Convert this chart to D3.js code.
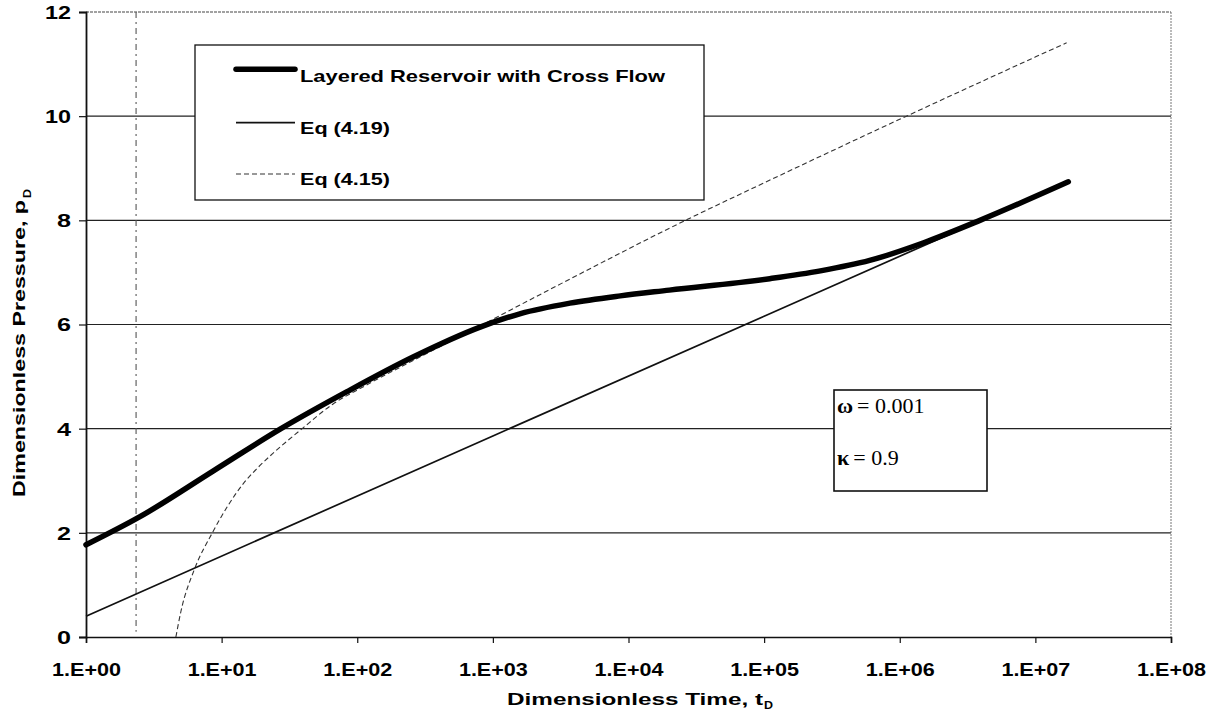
<!DOCTYPE html>
<html>
<head>
<meta charset="utf-8">
<script src="https://cdn.jsdelivr.net/npm/d3@7"></script>
<style>
  html, body { margin: 0; padding: 0; background: #fff; }
  svg { display: block; }
  .sans { font-family: "Liberation Sans", Arial, sans-serif; font-weight: bold; fill: #000; }
  .serif { font-family: "Liberation Serif", "Times New Roman", serif; fill: #000; }
</style>
</head>
<body>
<svg id="chart" width="1214" height="724"></svg>
<script>
// Layered reservoir with cross flow: dimensionless pressure vs dimensionless time
const crossFlowT  = [1, 2.5, 8.7, 27, 84, 260, 805, 1600, 3700, 8700, 2.0e4, 1.1e5, 2.6e5, 6.0e5, 1.5e6, 3.9e6, 1.75e7];
const crossFlowPD = [1.77, 2.31, 3.19, 3.99, 4.71, 5.38, 5.95, 6.21, 6.41, 6.55, 6.66, 6.88, 7.03, 7.23, 7.57, 8.00, 8.74];

// Eq (4.19): semilog straight line
const eq419T  = [1, 1e3, 1e5, 1.75e7];
const eq419PD = [0.40, 3.86, 6.16, 8.74];

// Eq (4.15)
const eq415T  = [4.6, 5.0, 6.3, 8.5, 11, 14.5, 18, 24, 38, 66, 110, 250, 600, 3160, 2.63e4, 1e5, 1.12e6, 1.7e7];
const eq415PD = [0.0, 0.48, 1.3, 1.99, 2.5, 2.95, 3.22, 3.53, 3.97, 4.47, 4.80, 5.29, 5.80, 6.78, 8.0, 8.72, 10.0, 11.41];

// vertical reference line
const markerT = 2.34;

const xTickValues = [1, 1e1, 1e2, 1e3, 1e4, 1e5, 1e6, 1e7, 1e8];
const xTickLabels = ["1.E+00", "1.E+01", "1.E+02", "1.E+03", "1.E+04", "1.E+05", "1.E+06", "1.E+07", "1.E+08"];
const yTickValues = [0, 2, 4, 6, 8, 10, 12];
const yTickLabels = ["0", "2", "4", "6", "8", "10", "12"];

const legendLabels = ["Layered Reservoir with Cross Flow", "Eq (4.19)", "Eq (4.15)"];
const paramSymbols = ["\u03C9", "\u03BA"];
const paramValues  = ["= 0.001", "= 0.9"];

const svg = d3.select("#chart");
const plotLeft = 86, plotRight = 1171, plotTop = 12, plotBottom = 637;

const x = d3.scaleLog().domain([1, 1e8]).range([plotLeft, plotRight]);
const y = d3.scaleLinear().domain([0, 12]).range([plotBottom, plotTop]);

// horizontal gridlines
svg.append("g").selectAll("line")
  .data(yTickValues.filter(v => v > 0 && v < 12))
  .join("line")
  .attr("x1", plotLeft).attr("x2", plotRight)
  .attr("y1", d => y(d)).attr("y2", d => y(d))
  .attr("stroke", "#222").attr("stroke-width", 1.1);

// plot frame: top and right edges
svg.append("line").attr("x1", plotLeft).attr("x2", plotRight).attr("y1", y(12)).attr("y2", y(12))
  .attr("stroke", "#444").attr("stroke-width", 1.2).attr("stroke-dasharray", "3,1");
svg.append("line").attr("x1", plotRight).attr("x2", plotRight).attr("y1", y(12)).attr("y2", y(0))
  .attr("stroke", "#777").attr("stroke-width", 1).attr("stroke-dasharray", "2,1");

// x axis
const xAxis = d3.axisBottom(x).tickValues(xTickValues).tickSize(6).tickFormat((d, i) => xTickLabels[i]);
const gx = svg.append("g").attr("transform", `translate(0,${plotBottom})`).call(xAxis);
gx.select(".domain").attr("stroke", "#111").attr("stroke-width", 1.6);
gx.selectAll(".tick line").attr("stroke", "#111").attr("stroke-width", 1.2);
gx.selectAll(".tick text")
  .attr("class", "sans").attr("font-size", 18.5).attr("y", 39).attr("dy", null)
  .attr("textLength", 69).attr("lengthAdjust", "spacingAndGlyphs");

// y axis
const yAxis = d3.axisLeft(y).tickValues(yTickValues).tickSize(7).tickFormat((d, i) => yTickLabels[i]);
const gy = svg.append("g").attr("transform", `translate(${plotLeft},0)`).call(yAxis);
gy.select(".domain").attr("stroke", "#111").attr("stroke-width", 1.8);
gy.selectAll(".tick line").attr("stroke", "#111").attr("stroke-width", 1.2);
gy.selectAll(".tick text")
  .attr("class", "sans").attr("font-size", 18).attr("x", -15).attr("dy", "0.36em")
  .attr("textLength", (d, i) => yTickLabels[i].length > 1 ? 26 : 14)
  .attr("lengthAdjust", "spacingAndGlyphs");

// vertical reference line
svg.append("line")
  .attr("x1", x(markerT)).attr("x2", x(markerT))
  .attr("y1", y(12)).attr("y2", y(0.1))
  .attr("stroke", "#555").attr("stroke-width", 1.1).attr("stroke-dasharray", "6,4,2,4");

const line = d3.line().x(d => x(d[0])).y(d => y(d[1])).curve(d3.curveMonotoneX);
const zip = (a, b) => a.map((v, i) => [v, b[i]]);

// Eq (4.15)
svg.append("path").datum(zip(eq415T, eq415PD)).attr("d", line)
  .attr("fill", "none").attr("stroke", "#333").attr("stroke-width", 1.1)
  .attr("stroke-dasharray", "5,3");

// Eq (4.19)
svg.append("path").datum(zip(eq419T, eq419PD)).attr("d", d3.line().x(d => x(d[0])).y(d => y(d[1])))
  .attr("fill", "none").attr("stroke", "#111").attr("stroke-width", 1.7);

// Layered reservoir with cross flow
svg.append("path").datum(zip(crossFlowT, crossFlowPD)).attr("d", line)
  .attr("fill", "none").attr("stroke", "#000").attr("stroke-width", 5.5)
  .attr("stroke-linecap", "round").attr("stroke-linejoin", "round");

// axis titles
svg.append("text").attr("class", "sans").attr("font-size", 17)
  .attr("x", 507).attr("y", 705)
  .attr("textLength", 256).attr("lengthAdjust", "spacingAndGlyphs")
  .text("Dimensionless Time, t");
svg.append("text").attr("class", "sans").attr("font-size", 11.5)
  .attr("x", 764).attr("y", 708.5)
  .attr("textLength", 9).attr("lengthAdjust", "spacingAndGlyphs")
  .text("D");

svg.append("text").attr("class", "sans").attr("font-size", 17)
  .attr("transform", "translate(25,497) rotate(-90)")
  .attr("textLength", 297).attr("lengthAdjust", "spacingAndGlyphs")
  .text("Dimensionless Pressure, p");
svg.append("text").attr("class", "sans").attr("font-size", 11.5)
  .attr("transform", "translate(30.5,198) rotate(-90)")
  .attr("textLength", 9).attr("lengthAdjust", "spacingAndGlyphs")
  .text("D");

// legend
const legend = svg.append("g");
legend.append("rect").attr("x", 195).attr("y", 45).attr("width", 509).attr("height", 155)
  .attr("fill", "#fff").attr("stroke", "#111").attr("stroke-width", 1.3);
const legendStyles = [
  { width: 5.5, dash: null, color: "#000", cap: "round", ly: 69.3, ty: 82, tl: 365 },
  { width: 1.7, dash: null, color: "#111", cap: "butt",  ly: 122.7, ty: 133.5, tl: 90 },
  { width: 1.1, dash: "5,3", color: "#333", cap: "butt", ly: 174, ty: 185, tl: 90 }
];
legendLabels.forEach((lab, i) => {
  const s = legendStyles[i];
  legend.append("line").attr("x1", 236).attr("x2", 295).attr("y1", s.ly).attr("y2", s.ly)
    .attr("stroke", s.color).attr("stroke-width", s.width).attr("stroke-linecap", s.cap)
    .attr("stroke-dasharray", s.dash);
  legend.append("text").attr("class", "sans").attr("font-size", 17)
    .attr("x", 300).attr("y", s.ty)
    .attr("textLength", s.tl).attr("lengthAdjust", "spacingAndGlyphs")
    .text(lab);
});

// parameter box
const params = svg.append("g");
params.append("rect").attr("x", 834).attr("y", 390).attr("width", 153).attr("height", 101)
  .attr("fill", "#fff").attr("stroke", "#111").attr("stroke-width", 1.6);
const paramY = [412.5, 465];
paramSymbols.forEach((sym, i) => {
  const t = params.append("text").attr("class", "serif").attr("font-size", 22)
    .attr("x", 837).attr("y", paramY[i]);
  t.append("tspan").attr("font-weight", "bold").text(sym);
  t.append("tspan").attr("dx", 4).text(paramValues[i]);
});
</script>
</body>
</html>
